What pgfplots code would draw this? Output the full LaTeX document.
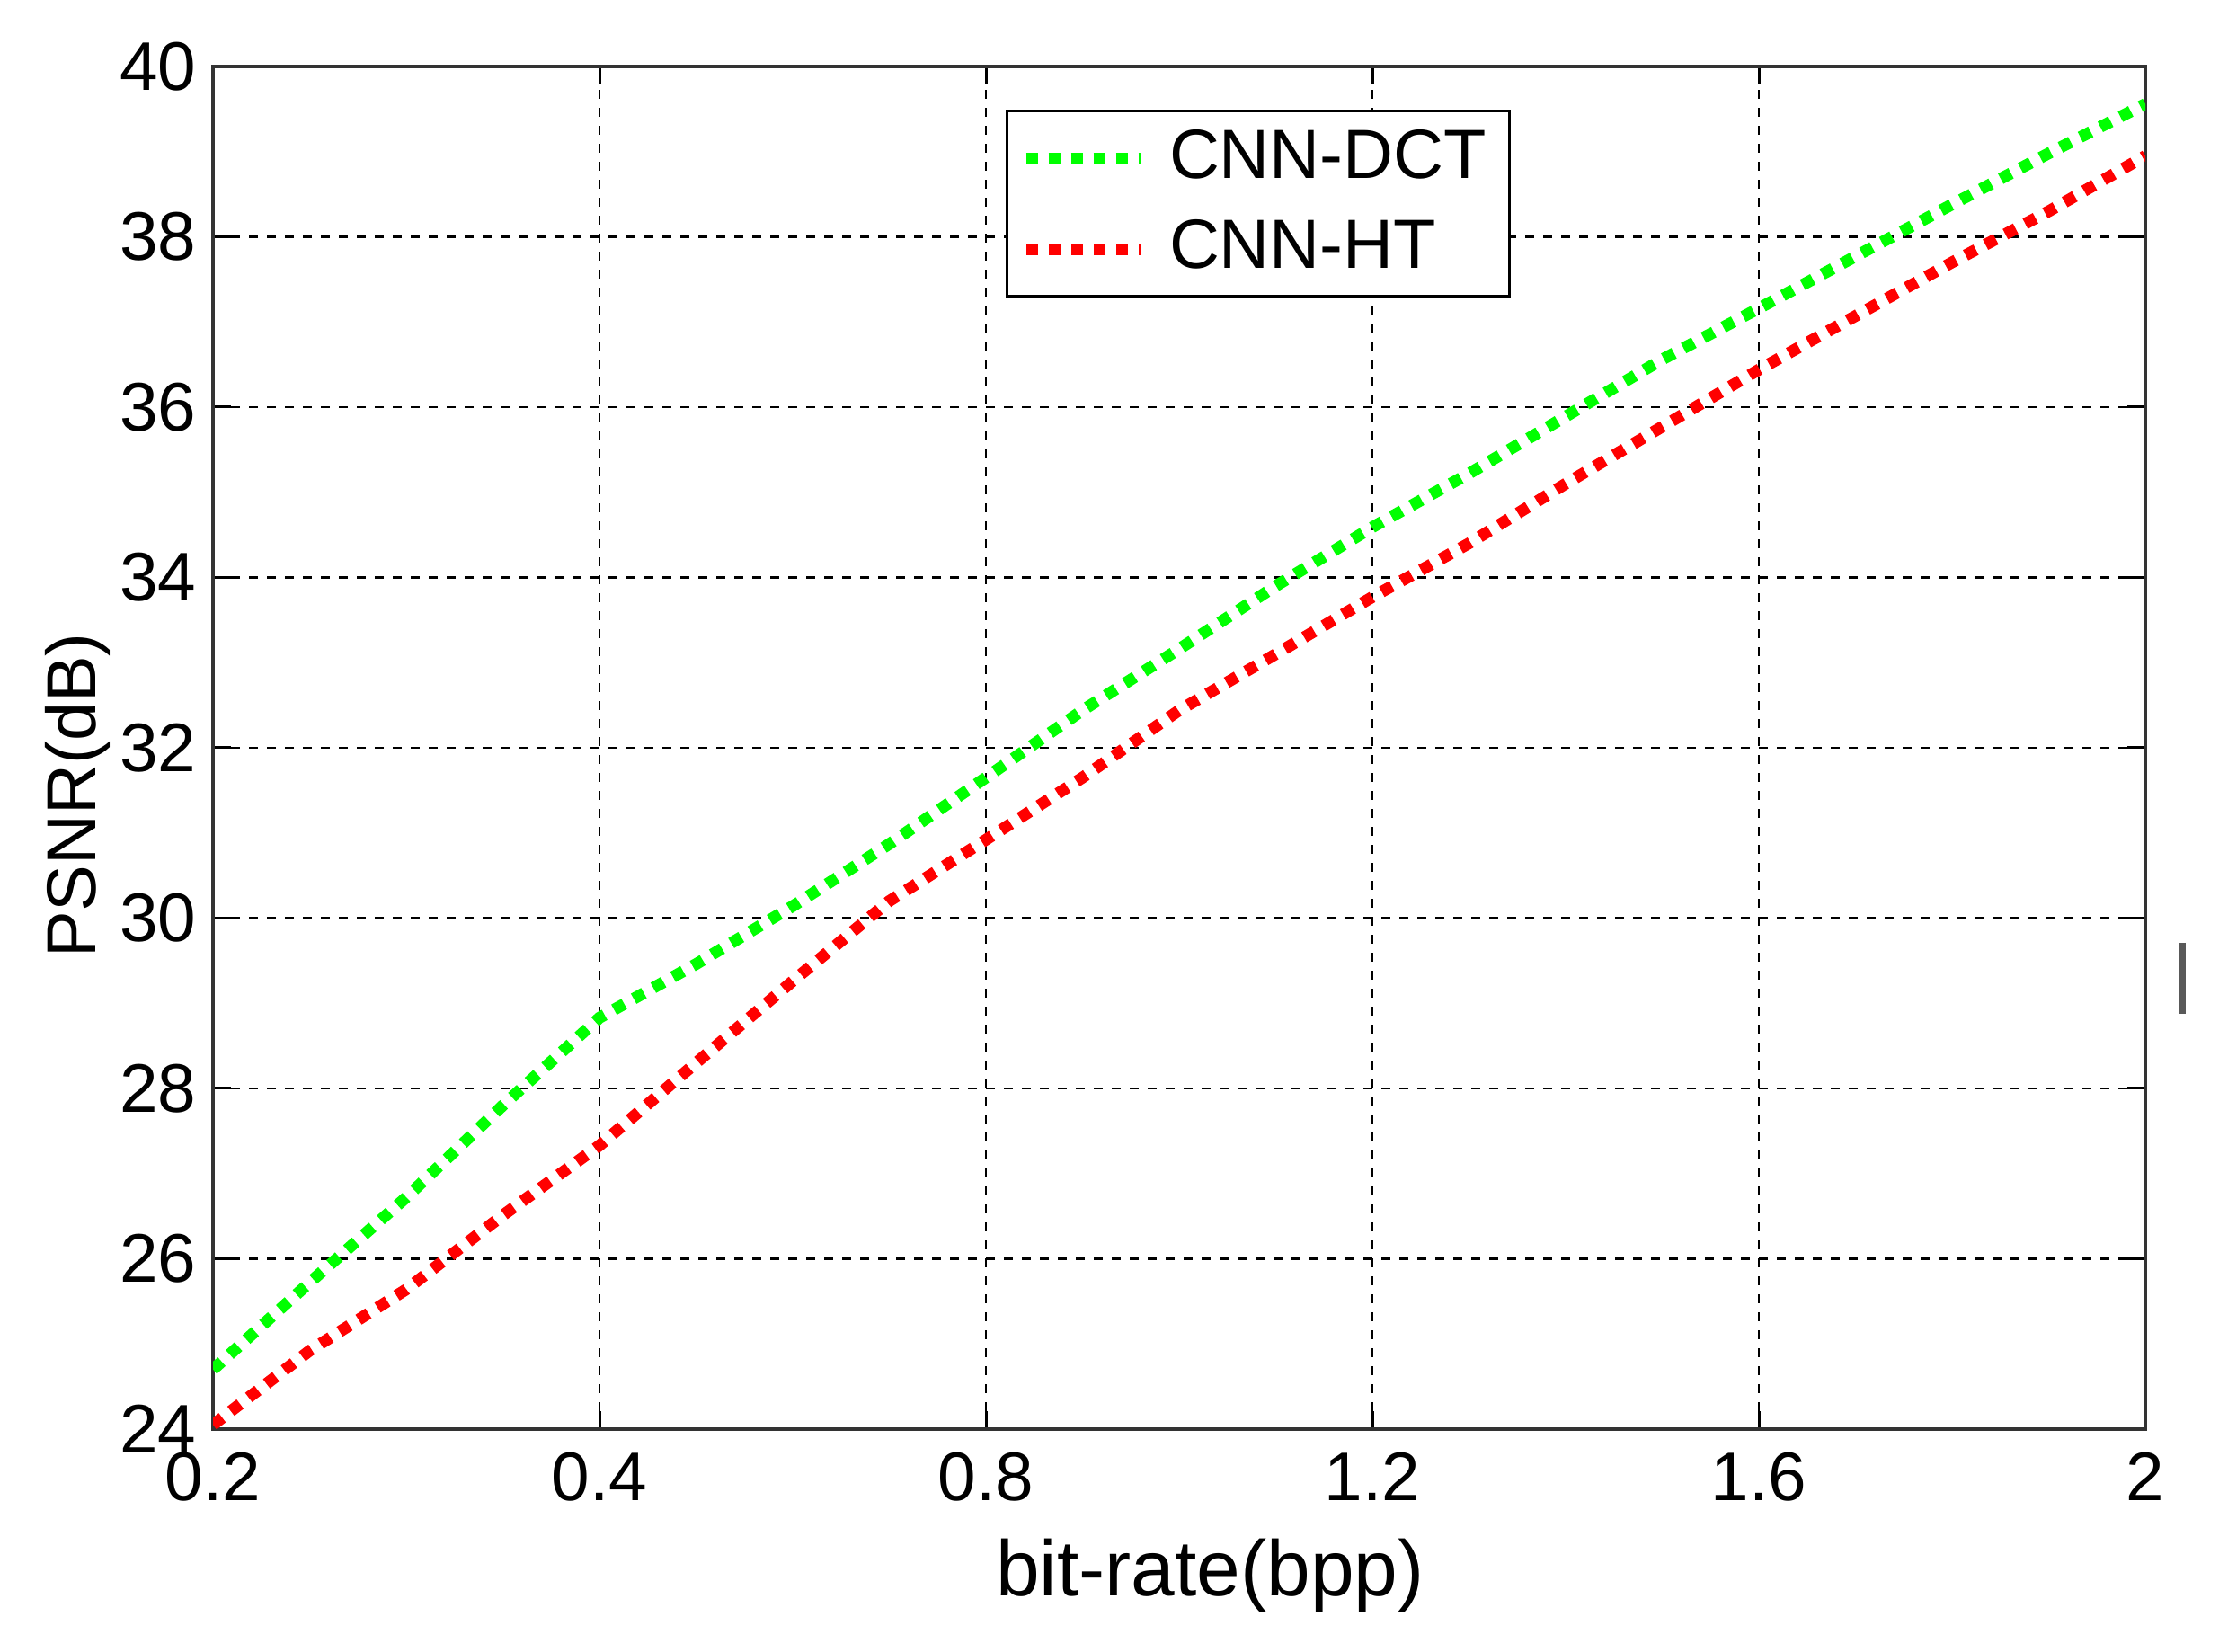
\documentclass[border=0pt]{standalone}
\usepackage{pgfplots}
\pgfplotsset{compat=1.18}
\usepackage{fontspec}
\setmainfont{Liberation Sans}
\begin{document}
\fontsize{15pt}{18pt}\selectfont
\begin{tikzpicture}
\begin{axis}[name=ax, scale only axis, width=430pt, height=303.2pt,
  xmin=0, xmax=2, ymin=24, ymax=40,
  xtick={0,0.4,0.8,1.2,1.6,2}, xticklabels={0.2,0.4,0.8,1.2,1.6,2},
  ytick={24,26,...,40},
  grid=major,
  major grid style={black, line width=0.5pt, dash pattern=on 2pt off 2pt},
  axis line style={line width=0.8pt, black!80},
  tick align=inside, major tick length=4pt,
  tick style={black, line width=0.6pt},
  ticklabel style={font=\fontsize{15.3pt}{18pt}\selectfont},
  yticklabel style={xshift=1.5pt},
  /pgf/number format/assume math mode=true,
  xlabel={bit-rate(bpp)}, ylabel={PSNR(dB)},
  xlabel style={font=\fontsize{17.5pt}{20pt}\selectfont, inner sep=0pt, at={(axis description cs:0.516,0)}, anchor=center, yshift=-32.5pt},
  ylabel style={font=\fontsize{15.5pt}{19pt}\selectfont, inner sep=0pt, at={(axis description cs:0,0.465)}, anchor=center, yshift=30.1pt},
  legend style={at={(0.41,0.968)}, anchor=north west, draw=black, line width=0.6pt,
    font=\fontsize{15.5pt}{18pt}\selectfont, inner xsep=3pt, inner ysep=2pt, row sep=3pt},
  legend cell align=left,
  legend image code/.code={\draw[#1] (0pt,0pt) -- (25.6pt,0pt); \path (28.6pt,0pt);},
]
\addplot[color={rgb,255:red,0;green,255;blue,0}, line width=2.6pt, dash pattern=on 2.6pt off 2.4pt] coordinates {
(0,24.7) (0.1,25.72) (0.2,26.72) (0.3,27.8) (0.4,28.83) (0.5,29.46) (0.6,30.14)
(0.7,30.87) (0.8,31.65) (0.9,32.44) (1.0,33.16) (1.1,33.9) (1.2,34.59) (1.3,35.22)
(1.4,35.89) (1.5,36.56) (1.6,37.16) (1.7,37.77) (1.8,38.38) (1.9,38.98) (2.0,39.56)};
\addlegendentry{CNN-DCT}
\addplot[color={rgb,255:red,255;green,0;blue,0}, line width=2.6pt, dash pattern=on 2.6pt off 2.4pt] coordinates {
(0,24.05) (0.1,24.92) (0.2,25.64) (0.3,26.51) (0.4,27.33) (0.5,28.3) (0.6,29.26)
(0.7,30.2) (0.8,30.92) (0.9,31.65) (1.0,32.44) (1.1,33.1) (1.2,33.77) (1.3,34.4)
(1.4,35.1) (1.5,35.77) (1.6,36.44) (1.7,37.07) (1.8,37.7) (1.9,38.3) (2.0,38.95)};
\addlegendentry{CNN-HT}
\end{axis}
\draw[line width=1.4pt, black!65] ([xshift=8.2pt,yshift=-195pt]ax.north east) -- ([xshift=8.2pt,yshift=-210.8pt]ax.north east);
\path[use as bounding box] ([xshift=-47.4pt,yshift=-49.6pt]ax.south west) rectangle ([xshift=16.4pt,yshift=14.8pt]ax.north east);
\end{tikzpicture}
\end{document}
